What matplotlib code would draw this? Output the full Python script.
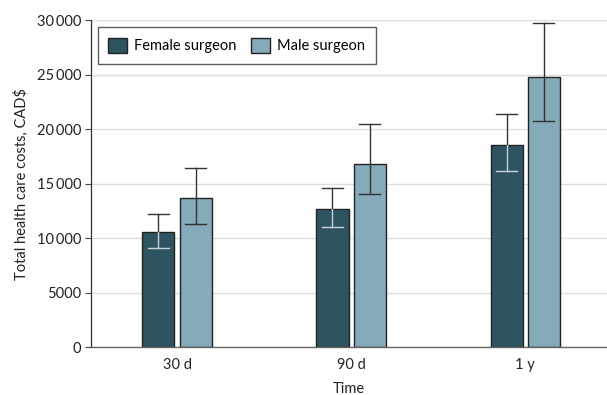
import numpy as np
import matplotlib.pyplot as plt
from matplotlib.ticker import FuncFormatter

plt.rcParams['font.family'] = ['Lato', 'DejaVu Sans']

periods = ['30 d', '90 d', '1 y']
female = [10600, 12650, 18550]
female_lo = [9100, 11030, 16150]
female_hi = [12250, 14600, 21400]
male = [13650, 16800, 24800]
male_lo = [11300, 14030, 20720]
male_hi = [16400, 20480, 29750]

c_female = '#2e5462'
c_male = '#85aab9'

fig = plt.figure(figsize=(6.07, 3.95), dpi=100)
ax = fig.add_axes([0.150, 0.1215, 0.850, 0.8275])

x = np.arange(len(periods))
w = 0.184
off = 0.107

ax.bar(x - off, female, w, color=c_female, edgecolor='#222222', linewidth=1.0,
       label='Female surgeon', zorder=2)
ax.bar(x + off, male, w, color=c_male, edgecolor='#222222', linewidth=1.0,
       label='Male surgeon', zorder=2)

# error bars: part above the bar dark, part inside the bar in contrast colour
for xs, vals, lo, hi, inner in [(x - off, female, female_lo, female_hi, '#c8d3d8'),
                                (x + off, male, male_lo, male_hi, '#333333')]:
    for xi, v, l, h in zip(xs, vals, lo, hi):
        ax.plot([xi, xi], [v, h], color='#333333', lw=1.0, zorder=3)
        ax.plot([xi - 0.06, xi + 0.06], [h, h], color='#333333', lw=1.0, zorder=3)
        ax.plot([xi, xi], [l, v], color=inner, lw=1.0, zorder=3)
        ax.plot([xi - 0.06, xi + 0.06], [l, l], color=inner, lw=1.0, zorder=3)

ax.set_xlim(-0.494, 2.47)
ax.set_ylim(0, 30000)
ax.set_yticks(np.arange(0, 30001, 5000))
ax.yaxis.set_major_formatter(FuncFormatter(
    lambda v, p: f'{int(v)}' if v < 10000 else f'{int(v):,}'.replace(',', '\u2009')))
ax.set_xticks(x)
ax.set_xticklabels(periods)
ax.tick_params(axis='x', length=0, pad=8, labelsize=10.5, colors='#222222')
ax.tick_params(axis='y', length=4, width=0.8, color='#444444', labelsize=10.5,
               labelcolor='#222222', pad=3)

ax.grid(axis='y', color='#dddddd', lw=1.0, zorder=0)
ax.set_axisbelow(True)
for s in ['top', 'right']:
    ax.spines[s].set_visible(False)
ax.spines['left'].set_color('#333333')
ax.spines['bottom'].set_color('#666666')
ax.spines['left'].set_linewidth(0.9)
ax.spines['bottom'].set_linewidth(1.0)

ax.set_ylabel('Total health care costs, CAD$', fontsize=10.5, color='#222222', labelpad=6)
ax.set_xlabel('Time', fontsize=10.5, color='#222222', labelpad=7)

leg = ax.legend(loc='upper left', ncol=2, frameon=True, fancybox=False,
                fontsize=10.5, handlelength=1.3, handleheight=1.3,
                columnspacing=1.0, handletextpad=0.5, borderpad=0.7,
                borderaxespad=0, bbox_to_anchor=(0.013, 0.978))
leg.get_frame().set_edgecolor('#333333')
leg.get_frame().set_linewidth(1.0)

fig.savefig('out.png', dpi=100)
